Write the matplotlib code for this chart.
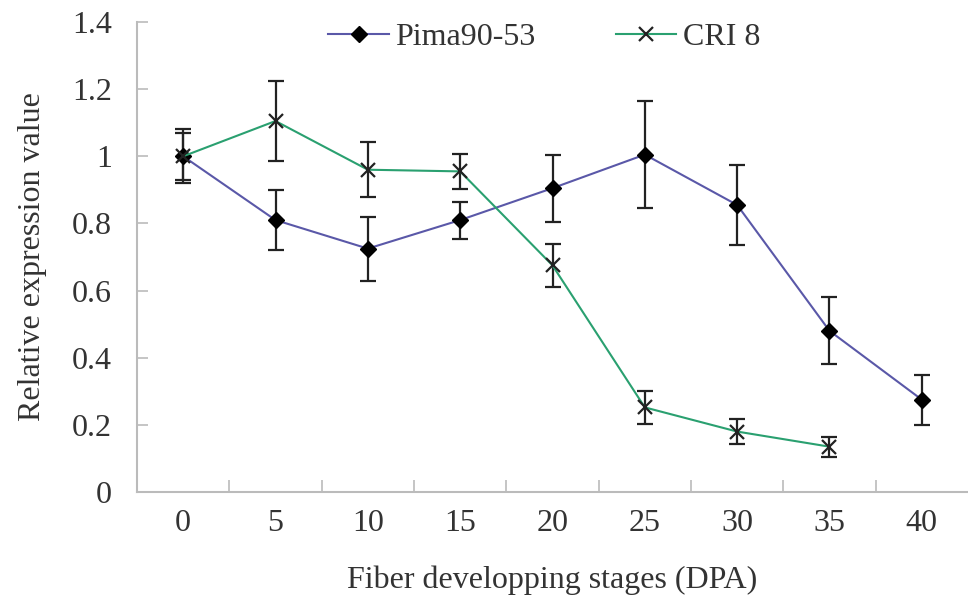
import matplotlib
matplotlib.use('Agg')
import matplotlib.pyplot as plt
from matplotlib.lines import Line2D
import numpy as np

# stages (DPA) and relative expression values
stages = ['0', '5', '10', '15', '20', '25', '30', '35', '40']
pima = [1.0, 0.81, 0.725, 0.81, 0.905, 1.005, 0.855, 0.48, 0.275]
pima_err = [0.07, 0.09, 0.095, 0.055, 0.10, 0.16, 0.12, 0.10, 0.075]
cri = [1.0, 1.105, 0.96, 0.955, 0.675, 0.252, 0.18, 0.135]
cri_err = [0.08, 0.12, 0.082, 0.052, 0.063, 0.05, 0.038, 0.03]

plt.rcParams['font.family'] = ['Liberation Serif', 'DejaVu Serif']
plt.rcParams['font.size'] = 23

fig = plt.figure(figsize=(9.68, 5.99), dpi=100)
ax = fig.add_axes([137/968, 107/599, 831/968, 470/599])

x_pima = np.arange(len(pima))
x_cri = np.arange(len(cri))

ax.errorbar(x_pima, pima, yerr=pima_err, color='#5a58a8', lw=1.5,
            marker='D', ms=8, mfc='black', mec='black',
            ecolor='#222222', elinewidth=1.6, capsize=6, capthick=1.6, zorder=3)
ax.errorbar(x_cri, cri, yerr=cri_err, color='#2aa070', lw=1.5,
            marker='x', ms=10, mew=1.6, mfc='black', mec='#222222',
            ecolor='#222222', elinewidth=1.6, capsize=6, capthick=1.6, zorder=3)

ax.set_ylim(0, 1.4)
ax.set_yticks(np.arange(0, 1.41, 0.2))
ax.set_yticklabels(['0', '0.2', '0.4', '0.6', '0.8', '1', '1.2', '1.4'])
ax.set_xlim(-0.5, len(stages) - 0.5)

# tick marks between categories, labels at the categories
ax.set_xticks(np.arange(0.5, len(stages) - 0.5, 1))
ax.set_xticklabels([])
ax.set_xticks(np.arange(len(stages)), minor=True)
ax.set_xticklabels(stages, minor=True)
ax.tick_params(axis='x', which='major', direction='in', length=9, width=1.2, color='#bbbbbb')
ax.tick_params(axis='x', which='minor', length=0, pad=12, labelcolor='#333333')
ax.tick_params(axis='y', direction='in', length=8, width=1.2, color='#bbbbbb',
               pad=18, labelcolor='#333333')

for s in ['top', 'right']:
    ax.spines[s].set_visible(False)
for s in ['left', 'bottom']:
    ax.spines[s].set_color('#bbbbbb')
    ax.spines[s].set_linewidth(1.5)

ax.set_xlabel('Fiber developping stages (DPA)', color='#333333', labelpad=20)
ax.set_ylabel('Relative expression value', color='#333333', labelpad=18)

handles = [Line2D([], [], color='#5a58a8', lw=1.5, marker='D', ms=8, mfc='black', mec='black'),
           Line2D([], [], color='#2aa070', lw=1.5, marker='x', ms=10, mew=1.6, mec='#222222')]
leg = ax.legend(handles, ['Pima90-53', 'CRI 8'], loc='upper center',
                bbox_to_anchor=(0.49, 1.06), ncol=2, frameon=False,
                handlelength=1.9, columnspacing=2.5, handletextpad=0.2, fontsize=23)
for t in leg.get_texts():
    t.set_color('#333333')

plt.savefig('out.png', dpi=100)
